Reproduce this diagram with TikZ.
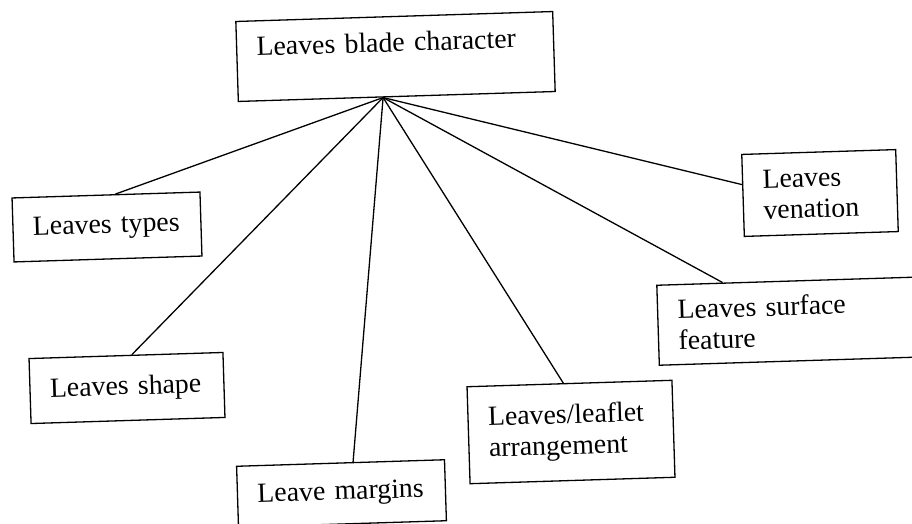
\documentclass[tikz,border=0pt]{standalone}
\usepackage{fontspec}
\setmainfont{Liberation Serif}
\usetikzlibrary{calc}
\tikzset{
  box/.style={draw, line width=1.3pt, rotate=1.8, anchor=center, align=left,
    inner xsep=20pt, inner ysep=0pt, font=\fontsize{27.8}{31}\selectfont},
  link/.style={line width=1.3pt}
}
\begin{document}
\begin{tikzpicture}[x=1pt,y=-1pt]
\clip (0,0) rectangle (912,524);
\useasboundingbox (0,0) rectangle (912,524);
\fill[white] (0,0) rectangle (912,524);
\node[box, text width=277pt, minimum height=80pt, text height=19.5pt, text depth=29.5pt] (top) at (395.5,56.5) {Leaves blade character};
\node[box, text width=148pt, minimum height=64pt] (types) at (107,227) {Leaves types};
\node[box, text width=154pt, minimum height=65pt] (shape) at (127,388) {Leaves shape};
\node[box, text width=168pt, minimum height=61pt] (margins) at (341.5,493.5) {Leave margins};
\node[box, text width=165pt, minimum height=97pt] (arr) at (571,432) {Leaves/leaflet\\arrangement};
\node[box, text width=114pt, minimum height=82pt] (ven) at (820,193) {Leaves\\venation};
\node[box, text width=230pt, minimum height=80pt] (surf) at (793,321) {Leaves surface\\feature};
\coordinate (hub) at ($(top.south west)!0.457!(top.south east)$);
\draw[link] (hub) -- ($(types.north west)!0.55!(types.north east)$);
\draw[link] (hub) -- ($(shape.north west)!0.53!(shape.north east)$);
\draw[link] (hub) -- ($(margins.north west)!0.56!(margins.north east)$);
\draw[link] (hub) -- ($(arr.north west)!0.47!(arr.north east)$);
\draw[link] (hub) -- ($(ven.north west)!0.37!(ven.south west)$);
\draw[link] (hub) -- ($(surf.north west)!0.245!(surf.north east)$);
\end{tikzpicture}
\end{document}
